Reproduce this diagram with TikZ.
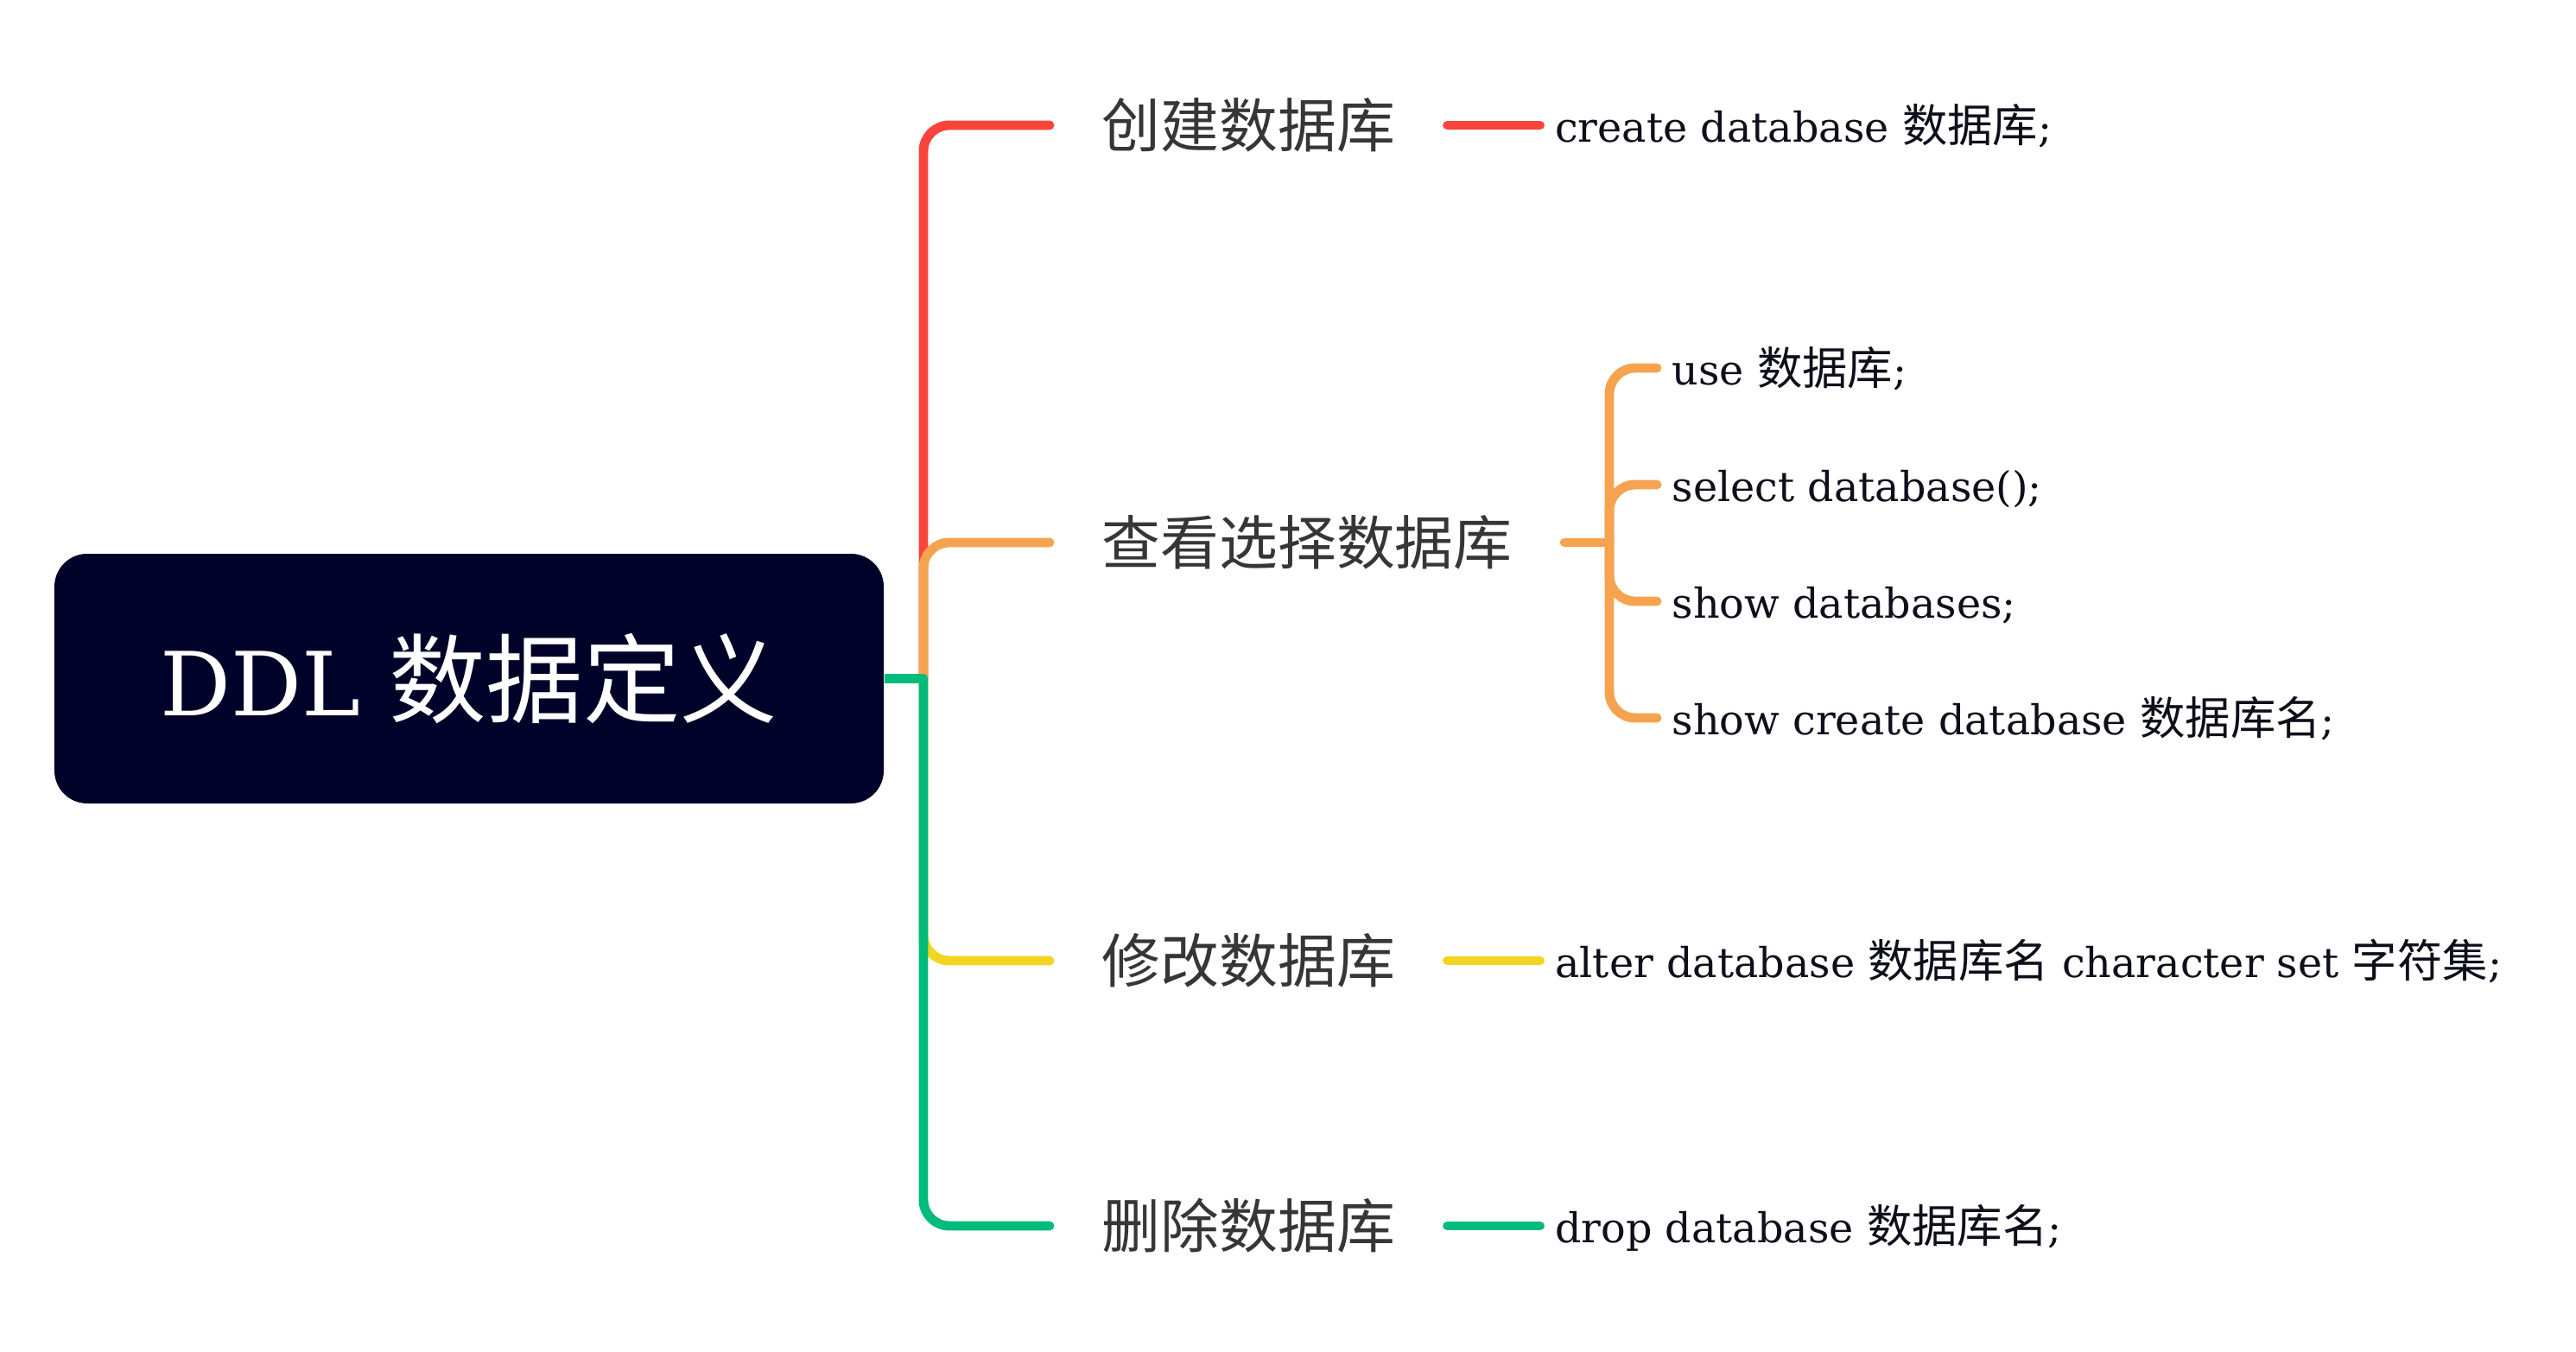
\documentclass[tikz,border=0pt]{standalone}
\usepackage{fontspec}
\usepackage{xcolor}
\usepackage{tikz}
\usetikzlibrary{positioning}
\setmainfont{DejaVu Serif}[Scale=0.91]
\newfontfamily\cjk{Noto Sans CJK SC}
\newcommand{\zhtext}[1]{{\cjk #1}}

\definecolor{ddlnavy}{HTML}{000229}
\definecolor{brred}{HTML}{F9443C}
\definecolor{brorange}{HTML}{F6A34F}
\definecolor{bryellow}{HTML}{F2D423}
\definecolor{brgreen}{HTML}{00BB7A}
\definecolor{topicgray}{HTML}{363636}
\definecolor{leafink}{HTML}{0E0F1A}

\begin{document}
\begin{tikzpicture}[
    root/.style={rectangle, fill=ddlnavy, rounded corners=0.38cm, minimum width=9.6cm, minimum height=2.89cm, text=white, text height=24.3pt, text depth=0pt, font=\fontsize{32pt}{38pt}\selectfont},
    topic/.style={inner xsep=0.6cm, inner ysep=0pt, text=topicgray, text height=14.7pt, text depth=0pt, font=\cjk\fontsize{19.3pt}{23pt}\selectfont},
    leaf/.style={inner xsep=0.17cm, inner ysep=0pt, text=leafink, text height=11.3pt, text depth=0pt, font=\fontsize{14.9pt}{18pt}\selectfont},
    branch/.style={line width=3.1pt, line cap=round, rounded corners=0.3cm}]
    \useasboundingbox (0,0) rectangle (29.82,-15.65);

    \node [root] (ddl) at (5.43,-7.855) {DDL \zhtext{数据定义}};
    \coordinate (hub) at (10.69,-7.855);

    % first level
    \node [topic, anchor=west] (create) at (12.15,-1.45) {创建数据库};
    \node [topic, anchor=west] (view) at (12.15,-6.28) {查看选择数据库};
    \node [topic, anchor=west] (alter) at (12.15,-11.12) {修改数据库};
    \node [topic, anchor=west] (drop) at (12.15,-14.19) {删除数据库};

    % statements
    \node [leaf, right=1.07cm of create] (createsql) {create database \zhtext{数据库};};
    \node [leaf, right=1.07cm of alter] (altersql) {alter database \zhtext{数据库名} character set \zhtext{字符集};};
    \node [leaf, right=1.07cm of drop] (dropsql) {drop database \zhtext{数据库名};};

    \coordinate (subhub) at (18.63,-6.28);
    \node [leaf, anchor=west] (use) at (19.18,-4.26) {use \zhtext{数据库};};
    \node [leaf, anchor=west] (select) at (19.18,-5.61) {select database();};
    \node [leaf, anchor=west] (showdb) at (19.18,-6.96) {show databases;};
    \node [leaf, anchor=west] (showcreate) at (19.18,-8.31) {show create database \zhtext{数据库名};};

    \draw [branch, brred] (hub) |- (create.west);
    \draw [branch, brorange] (hub) |- (view.west);
    \draw [branch, bryellow] (hub) |- (alter.west);
    \draw [branch, brgreen] (hub) |- (drop.west);
    \draw [branch, brgreen, line cap=butt] (ddl.east) -- (hub);

    \draw [branch, brred] (create) -- (createsql);
    \draw [branch, bryellow] (alter) -- (altersql);
    \draw [branch, brgreen] (drop) -- (dropsql);

    \draw [branch, brorange] (view.east) -- (subhub);
    \foreach \s in {use, select, showdb, showcreate}
        \draw [branch, brorange] (subhub) |- (\s.west);
\end{tikzpicture}
\end{document}
